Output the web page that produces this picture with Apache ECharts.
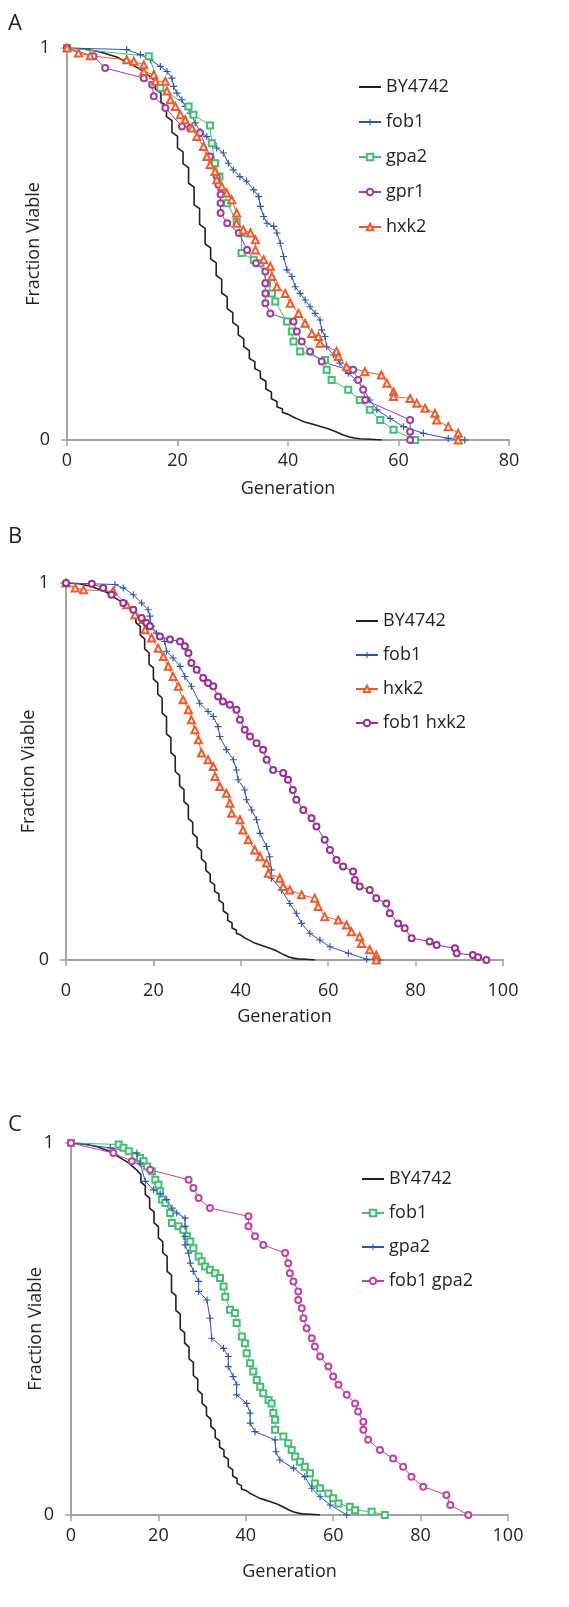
<!DOCTYPE html>
<html>
<head>
<meta charset="utf-8">
<script src="https://cdn.jsdelivr.net/npm/echarts@6/dist/echarts.min.js"></script>
<style>
html,body{margin:0;padding:0;background:#fff;}
#chart{width:569px;height:1607px;}
</style>
</head>
<body>
<div id="chart"></div>
<script>
// ---------------- DATA ----------------
const panelLetters = ['A', 'B', 'C'];
const xTicksA = [0, 20, 40, 60, 80];
const xTicksBC = [0, 20, 40, 60, 80, 100];
const yTicks = [0, 1];

// Control strain (same in all panels): [generation, fraction viable]
const by4742 = [[0,1],[3,0.998],[6,0.99],[9,0.977],[11,0.962],[13,0.948],[14,0.938],[15,0.928],
 [16,0.915],[16,0.895],[17,0.885],[17,0.862],[18,0.852],[18,0.825],[19,0.815],[19,0.785],[20,0.775],[20,0.745],
 [21,0.735],[21,0.705],[22,0.695],[22,0.655],[23,0.645],[23,0.6],[24,0.59],[24,0.55],[25,0.54],[25,0.5],
 [26,0.49],[26,0.462],[27,0.452],[27,0.42],[28,0.41],[28,0.375],[29,0.365],[29,0.335],[30,0.325],[30,0.3],
 [31,0.29],[31,0.268],[32,0.258],[32,0.238],[33,0.228],[33,0.208],[34,0.2],[34,0.182],[35,0.175],[35,0.158],
 [36,0.15],[36,0.13],[37,0.122],[37,0.105],[38,0.098],[38,0.085],[39,0.079],[39,0.07],[40,0.066],[41,0.058],
 [42,0.052],[43,0.046],[44,0.042],[45,0.038],[46,0.034],[47,0.03],[48,0.025],[49,0.019],[50,0.013],[51,0.008],
 [52,0.005],[53,0.003],[55,0.002],[57,0]];

// Panel A
const a_fob1 = [[0,1],[10.8,0.996],[13.3,0.983],[15.1,0.97],[16.9,0.953],[18.1,0.94],[19,0.923],[19.3,0.902],
 [19.9,0.885],[20.8,0.868],[21.4,0.851],[22.3,0.834],[23.2,0.809],[24.1,0.787],[25.3,0.774],[26.5,0.757],
 [27.1,0.745],[28.3,0.732],[29.2,0.706],[30.1,0.689],[31.3,0.672],[32.5,0.66],[33.8,0.638],[34.7,0.621],
 [35,0.596],[35.6,0.57],[36.2,0.553],[37.4,0.545],[38,0.528],[38.6,0.502],[39.2,0.468],[39.8,0.434],
 [40.7,0.417],[41.3,0.391],[42.2,0.374],[43.1,0.357],[44,0.34],[44.9,0.323],[45.8,0.306],[46.1,0.281],
 [46.7,0.264],[47,0.238],[48.2,0.217],[49.4,0.196],[50.9,0.17],[52.4,0.153],[53.6,0.132],[54.8,0.102],
 [56.1,0.077],[58.5,0.055],[60.9,0.034],[64.5,0.017],[69,0.004],[72,0]];
const a_gpa2 = [[0,1],[14.8,0.979],[16.9,0.898],[22,0.851],[22.9,0.83],[25.9,0.802],[26.2,0.757],[26.8,0.706],
 [27.6,0.672],[29,0.604],[30.7,0.557],[31.6,0.528],[31.6,0.477],[33.8,0.46],[35,0.451],[36.2,0.4],[37.1,0.374],
 [37.7,0.353],[39.8,0.302],[40.7,0.277],[41,0.251],[42.2,0.226],[46.7,0.204],[47,0.179],[47.9,0.153],
 [50.9,0.128],[53,0.102],[54.8,0.077],[56.7,0.051],[59.1,0.026],[63,0]];
const a_gpr1 = [[0,1],[4.8,0.979],[6.9,0.949],[13.9,0.923],[15.4,0.906],[15.7,0.877],[17.8,0.847],[20.8,0.8],
 [22.3,0.796],[24.1,0.783],[25.9,0.723],[27.1,0.672],[27.4,0.651],[27.8,0.626],[27.8,0.604],[27.8,0.579],
 [29,0.553],[31.1,0.528],[32.6,0.485],[34.2,0.451],[35.9,0.43],[35.9,0.4],[35.9,0.374],[35.9,0.349],
 [36.8,0.323],[41,0.302],[41.6,0.277],[42.5,0.251],[44,0.226],[46.1,0.2],[50.9,0.179],[51.8,0.179],
 [52.7,0.153],[53.6,0.128],[54,0.102],[62.1,0.051],[62.1,0.021],[62.1,0]];
const a_hxk2 = [[0,1],[2.1,0.987],[4.2,0.98],[10.8,0.97],[12.1,0.966],[13.9,0.957],[13.9,0.94],[15.7,0.932],
 [16,0.915],[17.8,0.915],[18.1,0.89],[18.7,0.868],[19.6,0.851],[20.5,0.83],[21.4,0.817],[22.6,0.796],
 [23.5,0.774],[24.7,0.749],[25.3,0.723],[25.9,0.702],[26.8,0.685],[27.1,0.664],[28,0.647],[28.9,0.63],
 [29.8,0.613],[30.7,0.579],[30.7,0.553],[31.9,0.536],[33.2,0.528],[34.1,0.511],[34.1,0.485],[35.6,0.46],
 [36.8,0.443],[37.1,0.417],[38,0.391],[39.5,0.374],[40.4,0.349],[41.9,0.323],[43.1,0.298],[44.3,0.272],
 [45.5,0.264],[45.8,0.247],[48.8,0.226],[49.1,0.213],[50.6,0.187],[53.9,0.174],[56.9,0.166],[57.9,0.145],
 [59.1,0.123],[59.1,0.111],[62.1,0.106],[63.3,0.094],[64.8,0.081],[66.6,0.068],[66.9,0.051],[69,0.034],
 [70.8,0.017],[70.8,0]];

// Panel B
const b_fob1 = [[0,1],[11.2,0.996],[13.1,0.987],[15.4,0.969],[17.3,0.947],[18.8,0.929],[19.2,0.912],
 [19.6,0.885],[20.7,0.867],[22.6,0.845],[23,0.819],[24.5,0.801],[26.1,0.779],[27.2,0.752],[28.7,0.726],
 [30.6,0.681],[32.5,0.659],[33.7,0.646],[34.8,0.619],[35.2,0.593],[36.7,0.558],[38.3,0.531],[39,0.504],
 [39.4,0.478],[40.9,0.451],[41.3,0.425],[42.5,0.398],[43.6,0.372],[44.4,0.336],[45.9,0.301],[46.6,0.274],
 [47,0.239],[47,0.217],[49.3,0.186],[51.2,0.15],[52.7,0.124],[53.9,0.097],[55.8,0.071],[58.1,0.053],
 [60.4,0.035],[64.6,0.018],[68.8,0.002],[71.8,0]];
const b_hxk2 = [[0,1],[2.1,0.987],[4,0.982],[10.8,0.978],[13.9,0.942],[15.8,0.916],[17.7,0.903],[18.1,0.876],
 [19.6,0.854],[21.1,0.827],[22.3,0.805],[23.4,0.779],[24.5,0.752],[25.7,0.726],[26.8,0.69],[28,0.664],
 [28.7,0.637],[29.5,0.611],[30.3,0.584],[31,0.549],[32.5,0.531],[33.7,0.513],[34.1,0.487],[35.2,0.46],
 [36.7,0.442],[37.5,0.416],[37.9,0.389],[39.8,0.372],[40.5,0.345],[41.7,0.319],[43.2,0.292],[44.4,0.274],
 [45.9,0.257],[46.3,0.23],[48.9,0.217],[49.7,0.195],[51.2,0.186],[53.9,0.173],[56.9,0.164],[57.7,0.142],
 [59.2,0.115],[62.3,0.106],[64.2,0.093],[65.3,0.075],[67.2,0.062],[67.6,0.044],[69.5,0.027],[71,0.013],[71,0]];
const b_fob1hxk2 = [[0,1],[5.9,0.998],[8.5,0.987],[10.4,0.969],[13.1,0.947],[15.4,0.929],[17.3,0.907],
 [18.4,0.894],[19.2,0.885],[21.5,0.858],[23.8,0.85],[26.1,0.845],[27.2,0.832],[28,0.814],[28.7,0.788],
 [29.9,0.77],[31.4,0.748],[32.5,0.735],[33.7,0.726],[34.8,0.699],[35.9,0.686],[37.5,0.677],[39,0.664],
 [39.8,0.637],[40.9,0.611],[42.1,0.593],[43.6,0.575],[45.1,0.558],[45.9,0.531],[47.4,0.504],[49.7,0.496],
 [50.8,0.478],[51.9,0.451],[52.7,0.425],[54.3,0.398],[56.2,0.376],[57.3,0.354],[59.2,0.319],[60.4,0.292],
 [61.9,0.265],[63.4,0.248],[65.7,0.235],[66.1,0.212],[67.2,0.195],[69.5,0.186],[71,0.164],[73.3,0.15],
 [74.1,0.124],[76,0.097],[77.5,0.084],[79.1,0.058],[83.2,0.049],[84.8,0.04],[89,0.031],[89.4,0.018],
 [93.1,0.013],[94.3,0.007],[96.2,0]];

// Panel C
const c_fob1 = [[0,1],[10.9,0.996],[12,0.987],[13.2,0.978],[14.7,0.964],[15.8,0.96],[16.6,0.951],[17.4,0.937],
 [18.5,0.924],[19.3,0.901],[20,0.888],[20.4,0.87],[20.8,0.848],[21.6,0.839],[22.7,0.812],[23.1,0.785],
 [24.6,0.776],[25.7,0.767],[26.5,0.749],[27.3,0.735],[28,0.717],[29.2,0.695],[29.9,0.682],[30.7,0.668],
 [31.8,0.659],[33,0.65],[34.1,0.637],[34.9,0.614],[35.3,0.587],[36.4,0.552],[37.5,0.543],[37.9,0.516],
 [39.1,0.48],[39.8,0.462],[40.2,0.435],[41,0.408],[41.7,0.386],[42.5,0.363],[43.3,0.345],[44,0.327],
 [45.2,0.309],[45.9,0.3],[46.3,0.274],[46.7,0.256],[46.7,0.229],[48.6,0.211],[49.7,0.193],[50.5,0.175],
 [51.3,0.157],[52.4,0.143],[53.5,0.13],[54.7,0.112],[55.8,0.085],[57,0.072],[58.9,0.058],[60,0.045],
 [61.2,0.031],[63.8,0.022],[65,0.013],[68.8,0.009],[71.8,0]];
const c_gpa2 = [[0,1],[9,0.987],[15.1,0.973],[15.8,0.946],[17,0.897],[18.9,0.874],[20.4,0.865],[21.9,0.848],
 [23.1,0.825],[24.2,0.812],[26.1,0.798],[26.1,0.776],[26.1,0.749],[26.1,0.726],[26.9,0.704],[27.3,0.677],
 [28,0.655],[29.2,0.628],[29.2,0.601],[31.1,0.578],[31.8,0.529],[32.2,0.475],[34.9,0.448],[36,0.426],
 [36,0.399],[37.1,0.372],[37.9,0.35],[37.9,0.323],[40.2,0.3],[41,0.274],[41,0.247],[42.1,0.224],[46.7,0.202],
 [46.9,0.17],[47.8,0.148],[50.9,0.126],[53.5,0.103],[55.1,0.072],[57,0.049],[59.3,0.027],[63.1,0]];
const c_fob1gpa2 = [[0,1],[9.7,0.973],[13.9,0.951],[18.1,0.928],[26.9,0.901],[28,0.879],[29.2,0.852],
 [31.8,0.825],[40.6,0.803],[40.6,0.776],[42.1,0.749],[44,0.726],[49,0.704],[49.7,0.677],[50.1,0.65],
 [50.9,0.628],[52,0.601],[52,0.578],[52.8,0.556],[53.2,0.529],[53.9,0.502],[55.1,0.475],[55.8,0.453],
 [57,0.426],[58.9,0.399],[60,0.372],[61.2,0.35],[63.1,0.323],[65,0.3],[65.7,0.278],[66.9,0.251],[66.9,0.229],
 [68,0.202],[70.7,0.175],[73.7,0.152],[76,0.13],[77.9,0.103],[80.6,0.076],[85.9,0.054],[86.8,0.027],[90.9,0]];

// ---------------- STYLE ----------------
const FONT = '"Open Sans", "Noto Sans", sans-serif';
const TXT = '#231f20';
const AXIS = '#a3a3a3';
const PLUS = 'path://M0,4.2h10v1.6h-10zM4.2,0h1.6v10h-1.6z';
const COL = {
  black: '#231f20', blue: '#2b55b0', green: '#45bd72', gpr: '#a33d9e',
  orange: '#f2592b', purple: '#9a2f8e', pink: '#c0449c'
};

const grids = [
  {left: 67, top: 48, width: 442, height: 392},
  {left: 66, top: 583, width: 437, height: 377},
  {left: 71, top: 1143, width: 437, height: 372}
];
const xMax = [80, 100, 100];
const xLabelMargin = [12, 22, 12];
const xNameGap = [40, 48, 48];
const yNameGap = [24, 28, 26];

function xAxis(i) {
  return {
    type: 'value', gridIndex: i, min: 0, max: xMax[i], interval: 20,
    name: 'Generation', nameLocation: 'middle', nameGap: xNameGap[i], nameMoveOverlap: false,
    nameTextStyle: {fontFamily: FONT, fontSize: 18, color: TXT},
    axisLine: {show: true, onZero: false, lineStyle: {color: AXIS, width: 2}},
    axisTick: {show: true, inside: false, length: 6, lineStyle: {color: AXIS, width: 1.5}},
    axisLabel: {fontFamily: FONT, fontSize: 18, color: TXT, margin: xLabelMargin[i]},
    splitLine: {show: false}
  };
}
function yAxis(i) {
  return {
    type: 'value', gridIndex: i, min: 0, max: 1, interval: 1,
    name: 'Fraction Viable', nameLocation: 'middle', nameGap: yNameGap[i], nameMoveOverlap: false,
    nameTextStyle: {fontFamily: FONT, fontSize: 18, color: TXT},
    axisLine: {show: true, onZero: false, lineStyle: {color: AXIS, width: 2}},
    axisTick: {show: true, inside: false, length: 6, lineStyle: {color: AXIS, width: 1.5}},
    axisLabel: {fontFamily: FONT, fontSize: 18, color: TXT, margin: 17},
    splitLine: {show: false}
  };
}
function ser(name, data, gi, color, symbol, size, lw) {
  return {
    type: 'line', name: name, data: data, xAxisIndex: gi, yAxisIndex: gi,
    symbol: symbol, symbolSize: size, showSymbol: symbol !== 'none',
    lineStyle: {color: color, width: lw},
    itemStyle: {color: color, borderWidth: 1},
    emphasis: {disabled: true}, animation: false, z: 2
  };
}

const series = [
  ser('BY4742', by4742, 0, COL.black, 'none', 0, 1.6),
  ser('fob1', a_fob1, 0, COL.blue, PLUS, 7, 1),
  ser('gpa2', a_gpa2, 0, COL.green, 'emptyRect', 6, 1),
  ser('gpr1', a_gpr1, 0, COL.gpr, 'emptyCircle', 6, 1),
  ser('hxk2', a_hxk2, 0, COL.orange, 'emptyTriangle', 7, 1),

  ser('BY4742 ', by4742, 1, COL.black, 'none', 0, 1.6),
  ser('fob1 ', b_fob1, 1, COL.blue, PLUS, 7, 1),
  ser('hxk2 ', b_hxk2, 1, COL.orange, 'emptyTriangle', 7, 1),
  ser('fob1 hxk2', b_fob1hxk2, 1, COL.purple, 'emptyCircle', 6, 1),

  ser('BY4742  ', by4742, 2, COL.black, 'none', 0, 1.6),
  ser('fob1  ', c_fob1, 2, COL.green, 'emptyRect', 6, 1),
  ser('gpa2  ', c_gpa2, 2, COL.blue, PLUS, 7, 1),
  ser('fob1 gpa2', c_fob1gpa2, 2, COL.pink, 'emptyCircle', 6, 1)
];

function legend(names, left, top, gap) {
  return {
    orient: 'vertical', left: left, top: top, itemGap: gap, itemWidth: 22, itemHeight: 8,
    data: names.map((n, k) => k === 0 ? {name: n, itemStyle: {opacity: 0}} : n),
    selectedMode: false,
    textStyle: {fontFamily: FONT, fontSize: 18, color: TXT},
    formatter: n => n.trim()
  };
}

const option = {
  backgroundColor: '#fff',
  animation: false,
  grid: grids,
  xAxis: [xAxis(0), xAxis(1), xAxis(2)],
  yAxis: [yAxis(0), yAxis(1), yAxis(2)],
  legend: [
    legend(['BY4742', 'fob1', 'gpa2', 'gpr1', 'hxk2'], 353, 73, 17),
    legend(['BY4742 ', 'fob1 ', 'hxk2 ', 'fob1 hxk2'], 350, 607, 16),
    legend(['BY4742  ', 'fob1  ', 'gpa2  ', 'fob1 gpa2'], 356, 1165, 16)
  ],
  graphic: [
    {type: 'text', left: 8, top: 13, style: {text: panelLetters[0], font: '22px ' + FONT, fill: TXT}},
    {type: 'text', left: 8, top: 526, style: {text: panelLetters[1], font: '22px ' + FONT, fill: TXT}},
    {type: 'text', left: 8, top: 1114, style: {text: panelLetters[2], font: '22px ' + FONT, fill: TXT}}
  ],
  series: series
};

const chart = echarts.init(document.getElementById('chart'), null, {renderer: 'canvas'});
chart.setOption(option);
</script>
</body>
</html>
